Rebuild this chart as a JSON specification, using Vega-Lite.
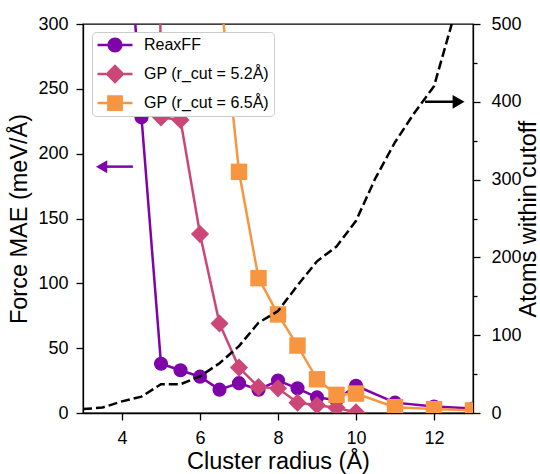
{
  "$schema": "https://vega.github.io/schema/vega-lite/v6.json",
  "width": 390,
  "height": 389,
  "autosize": {"type": "none"},
  "padding": {"left": 83, "top": 24, "right": 67, "bottom": 61},
  "config": {
    "view": {"stroke": "black", "strokeWidth": 1.3},
    "font": "Liberation Sans",
    "axis": {
      "domainColor": "black", "domainWidth": 1.3, "tickColor": "black", "tickWidth": 1.3, "tickSize": 7,
      "labelColor": "black", "titleColor": "black", "labelFontSize": 18, "titleFontSize": 23.5,
      "titleFontWeight": "normal", "grid": false, "labelFont": "Liberation Sans", "titleFont": "Liberation Sans"
    }
  },
  "datasets": {
    "mae": [
      {"r": 4.0, "mae": 455, "series": "ReaxFF"},
      {"r": 4.5, "mae": 228, "series": "ReaxFF"},
      {"r": 5.0, "mae": 38, "series": "ReaxFF"},
      {"r": 5.5, "mae": 33, "series": "ReaxFF"},
      {"r": 6.0, "mae": 28, "series": "ReaxFF"},
      {"r": 6.5, "mae": 18, "series": "ReaxFF"},
      {"r": 7.0, "mae": 23, "series": "ReaxFF"},
      {"r": 7.5, "mae": 18, "series": "ReaxFF"},
      {"r": 8.0, "mae": 25, "series": "ReaxFF"},
      {"r": 8.5, "mae": 19, "series": "ReaxFF"},
      {"r": 9.0, "mae": 12, "series": "ReaxFF"},
      {"r": 9.5, "mae": 10, "series": "ReaxFF"},
      {"r": 10.0, "mae": 21, "series": "ReaxFF"},
      {"r": 11.0, "mae": 8, "series": "ReaxFF"},
      {"r": 12.0, "mae": 5, "series": "ReaxFF"},
      {"r": 13.0, "mae": 3.5, "series": "ReaxFF"},
      {"r": 4.5, "mae": 2500, "series": "GP (r_cut = 5.2Å)"},
      {"r": 5.0, "mae": 228, "series": "GP (r_cut = 5.2Å)"},
      {"r": 5.5, "mae": 226, "series": "GP (r_cut = 5.2Å)"},
      {"r": 6.0, "mae": 138, "series": "GP (r_cut = 5.2Å)"},
      {"r": 6.5, "mae": 69, "series": "GP (r_cut = 5.2Å)"},
      {"r": 7.0, "mae": 35, "series": "GP (r_cut = 5.2Å)"},
      {"r": 7.5, "mae": 20, "series": "GP (r_cut = 5.2Å)"},
      {"r": 8.0, "mae": 19, "series": "GP (r_cut = 5.2Å)"},
      {"r": 8.5, "mae": 8, "series": "GP (r_cut = 5.2Å)"},
      {"r": 9.0, "mae": 6, "series": "GP (r_cut = 5.2Å)"},
      {"r": 9.5, "mae": 4, "series": "GP (r_cut = 5.2Å)"},
      {"r": 10.0, "mae": 0.5, "series": "GP (r_cut = 5.2Å)"},
      {"r": 6.5, "mae": 330, "series": "GP (r_cut = 6.5Å)"},
      {"r": 7.0, "mae": 186, "series": "GP (r_cut = 6.5Å)"},
      {"r": 7.5, "mae": 104, "series": "GP (r_cut = 6.5Å)"},
      {"r": 8.0, "mae": 76, "series": "GP (r_cut = 6.5Å)"},
      {"r": 8.5, "mae": 52, "series": "GP (r_cut = 6.5Å)"},
      {"r": 9.0, "mae": 26, "series": "GP (r_cut = 6.5Å)"},
      {"r": 9.5, "mae": 14, "series": "GP (r_cut = 6.5Å)"},
      {"r": 10.0, "mae": 15, "series": "GP (r_cut = 6.5Å)"},
      {"r": 11.0, "mae": 4.5, "series": "GP (r_cut = 6.5Å)"},
      {"r": 12.0, "mae": 3, "series": "GP (r_cut = 6.5Å)"},
      {"r": 13.0, "mae": 2, "series": "GP (r_cut = 6.5Å)"}
    ],
    "atoms": [
      {"r": 3.0, "atoms": 5},
      {"r": 3.5, "atoms": 7},
      {"r": 4.0, "atoms": 15},
      {"r": 4.5, "atoms": 21},
      {"r": 5.0, "atoms": 37},
      {"r": 5.5, "atoms": 37},
      {"r": 6.0, "atoms": 47},
      {"r": 6.5, "atoms": 64},
      {"r": 7.0, "atoms": 86},
      {"r": 7.5, "atoms": 116},
      {"r": 8.0, "atoms": 131},
      {"r": 8.5, "atoms": 164},
      {"r": 9.0, "atoms": 195},
      {"r": 9.5, "atoms": 214},
      {"r": 10.0, "atoms": 247},
      {"r": 10.5, "atoms": 302},
      {"r": 11.0, "atoms": 348},
      {"r": 11.5, "atoms": 386},
      {"r": 12.0, "atoms": 420},
      {"r": 12.5, "atoms": 508},
      {"r": 13.0, "atoms": 600}
    ],
    "arrowL": [{"r": 4.28, "r2": 3.477, "mae": 190}],
    "arrowR": [{"r": 11.77, "r2": 12.63, "atoms": 400}]
  },
  "layer": [
    {
      "layer": [
        {
          "data": {"name": "mae"},
          "transform": [{"filter": "datum.series == 'ReaxFF'"}],
          "mark": {"type": "line", "strokeWidth": 2.5, "clip": true, "color": "#7e03a8"},
          "encoding": {
            "x": {"field": "r", "type": "quantitative", "scale": {"domain": [3, 13], "nice": false, "zero": false},
              "axis": {"values": [4, 6, 8, 10, 12], "title": "Cluster radius (Å)", "labelPadding": 9, "titlePadding": 2}},
            "y": {"field": "mae", "type": "quantitative", "scale": {"domain": [0, 300], "nice": false, "zero": false},
              "axis": {"orient": "left", "values": [0, 50, 100, 150, 200, 250, 300], "title": "Force MAE (meV/Å)", "labelPadding": 8, "titlePadding": 6}}
          }
        },
        {
          "data": {"name": "mae"},
          "transform": [{"filter": "datum.series == 'ReaxFF'"}],
          "mark": {"type": "point", "shape": "circle", "filled": true, "opacity": 1, "size": 200, "clip": true, "color": "#7e03a8"},
          "encoding": {
            "x": {"field": "r", "type": "quantitative"},
            "y": {"field": "mae", "type": "quantitative"}
          }
        },
        {
          "data": {"name": "mae"},
          "transform": [{"filter": "datum.series == 'GP (r_cut = 5.2Å)'"}],
          "mark": {"type": "line", "strokeWidth": 2.5, "clip": true, "color": "#cc4778"},
          "encoding": {
            "x": {"field": "r", "type": "quantitative"},
            "y": {"field": "mae", "type": "quantitative"}
          }
        },
        {
          "data": {"name": "mae"},
          "transform": [{"filter": "datum.series == 'GP (r_cut = 5.2Å)'"}],
          "mark": {"type": "point", "shape": "diamond", "filled": true, "opacity": 1, "size": 330, "clip": true, "color": "#cc4778"},
          "encoding": {
            "x": {"field": "r", "type": "quantitative"},
            "y": {"field": "mae", "type": "quantitative"}
          }
        },
        {
          "data": {"name": "mae"},
          "transform": [{"filter": "datum.series == 'GP (r_cut = 6.5Å)'"}],
          "mark": {"type": "line", "strokeWidth": 2.5, "clip": true, "color": "#f89540"},
          "encoding": {
            "x": {"field": "r", "type": "quantitative"},
            "y": {"field": "mae", "type": "quantitative"}
          }
        },
        {
          "data": {"name": "mae"},
          "transform": [{"filter": "datum.series == 'GP (r_cut = 6.5Å)'"}],
          "mark": {"type": "point", "shape": "square", "filled": true, "opacity": 1, "size": 270, "clip": true, "color": "#f89540"},
          "encoding": {
            "x": {"field": "r", "type": "quantitative"},
            "y": {"field": "mae", "type": "quantitative"}
          }
        },
        {
          "data": {"name": "mae"},
          "mark": {"type": "point", "filled": true, "opacity": 0, "clip": true},
          "encoding": {
            "x": {"field": "r", "type": "quantitative"},
            "y": {"field": "mae", "type": "quantitative"},
            "color": {
              "field": "series", "type": "nominal",
              "scale": {"domain": ["ReaxFF", "GP (r_cut = 5.2Å)", "GP (r_cut = 6.5Å)"], "range": ["#7e03a8", "#cc4778", "#f89540"]},
              "legend": {
                "title": null, "orient": "none", "legendX": 9, "legendY": 8,
                "fillColor": "white", "strokeColor": "#cccccc", "cornerRadius": 4, "padding": 5,
                "labelFontSize": 16, "labelFont": "Liberation Sans", "labelColor": "black",
                "symbolSize": 225, "symbolOffset": 10, "labelOffset": 21, "rowPadding": 11,
                "symbolOpacity": 1, "symbolStrokeWidth": 0
              }
            },
            "shape": {
              "field": "series", "type": "nominal",
              "scale": {"domain": ["ReaxFF", "GP (r_cut = 5.2Å)", "GP (r_cut = 6.5Å)"],
                "range": [
                  "M-2.33,-0.167L-0.97,-0.167L-0.97,0.167L-2.33,0.167ZM0.97,-0.167L2.33,-0.167L2.33,0.167L0.97,0.167ZM1,0A1,1,0,1,1,-1,0A1,1,0,1,1,1,0Z",
                  "M-2.33,-0.167L-1.2,-0.167L-1.2,0.167L-2.33,0.167ZM1.2,-0.167L2.33,-0.167L2.33,0.167L1.2,0.167ZM0,-1.3L1.3,0L0,1.3L-1.3,0Z",
                  "M-2.33,-0.167L-1,-0.167L-1,0.167L-2.33,0.167ZM1,-0.167L2.33,-0.167L2.33,0.167L1,0.167ZM-1.05,-1.05L1.05,-1.05L1.05,1.05L-1.05,1.05Z"
                ]},
              "legend": {
                "title": null, "orient": "none", "legendX": 9, "legendY": 8,
                "fillColor": "white", "strokeColor": "#cccccc", "cornerRadius": 4, "padding": 5,
                "labelFontSize": 16, "labelFont": "Liberation Sans", "labelColor": "black",
                "symbolSize": 225, "symbolOffset": 10, "labelOffset": 21, "rowPadding": 11,
                "symbolOpacity": 1, "symbolStrokeWidth": 0
              }
            }
          }
        },
        {
          "data": {"name": "arrowL"},
          "mark": {"type": "rule", "color": "#7e03a8", "strokeWidth": 2.5},
          "encoding": {
            "x": {"field": "r", "type": "quantitative"},
            "x2": {"field": "r2"},
            "y": {"field": "mae", "type": "quantitative"}
          }
        },
        {
          "data": {"name": "arrowL"},
          "mark": {"type": "point", "shape": "triangle-left", "filled": true, "opacity": 1, "size": 169, "color": "#7e03a8"},
          "encoding": {
            "x": {"field": "r2", "type": "quantitative"},
            "y": {"field": "mae", "type": "quantitative"}
          }
        }
      ]
    },
    {
      "layer": [
        {
          "data": {"name": "atoms"},
          "mark": {"type": "line", "color": "black", "strokeWidth": 2.5, "strokeDash": [9, 4], "clip": true},
          "encoding": {
            "x": {"field": "r", "type": "quantitative"},
            "y": {"field": "atoms", "type": "quantitative", "scale": {"domain": [0, 500], "nice": false, "zero": false},
              "axis": {"orient": "right", "values": [0, 100, 200, 300, 400, 500], "title": "Atoms within cutoff", "titleAngle": 270, "titleBaseline": "top", "labelPadding": 11, "titlePadding": -5}}
          }
        },
        {
          "data": {"name": "arrowR"},
          "mark": {"type": "rule", "color": "black", "strokeWidth": 2.5},
          "encoding": {
            "x": {"field": "r", "type": "quantitative"},
            "x2": {"field": "r2"},
            "y": {"field": "atoms", "type": "quantitative"}
          }
        },
        {
          "data": {"name": "arrowR"},
          "mark": {"type": "point", "shape": "triangle-right", "filled": true, "opacity": 1, "size": 190, "color": "black"},
          "encoding": {
            "x": {"field": "r2", "type": "quantitative"},
            "y": {"field": "atoms", "type": "quantitative"}
          }
        }
      ]
    },
    {
      "data": {"name": "atoms"},
      "mark": {"type": "point", "opacity": 0},
      "encoding": {
        "x": {"field": "r", "type": "quantitative"},
        "y": {"field": "atoms", "type": "quantitative", "scale": {"domain": [0, 500], "nice": false, "zero": false},
          "axis": {"orient": "right", "values": [50, 150, 250, 350, 450], "labels": false, "domain": false, "tickSize": 4, "title": null}}
      }
    }
  ],
  "resolve": {"scale": {"y": "independent"}}
}
